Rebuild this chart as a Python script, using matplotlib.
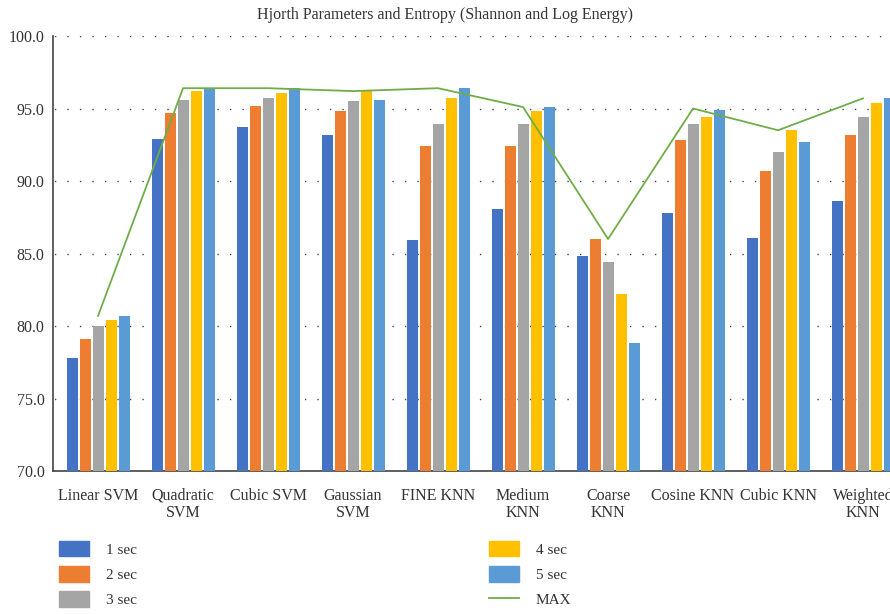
import numpy as np
import matplotlib.pyplot as plt
from matplotlib.patches import Patch
from matplotlib.lines import Line2D

plt.rcParams['font.family'] = ['Liberation Serif', 'DejaVu Serif']

# clasificadores
categorias = ['Linear SVM', 'Quadratic\nSVM', 'Cubic SVM', 'Gaussian\nSVM', 'FINE KNN',
              'Medium\nKNN', 'Coarse\nKNN', 'Cosine KNN', 'Cubic KNN', 'Weighted\nKNN']

# exactitud por longitud de ventana
sec1 = [77.8, 92.9, 93.7, 93.2, 85.9, 88.1, 84.8, 87.8, 86.1, 88.6]
sec2 = [79.1, 94.7, 95.2, 94.8, 92.4, 92.4, 86.0, 92.8, 90.7, 93.2]
sec3 = [80.0, 95.6, 95.7, 95.5, 93.9, 93.9, 84.4, 93.9, 92.0, 94.4]
sec4 = [80.4, 96.2, 96.1, 96.2, 95.7, 94.8, 82.2, 94.4, 93.5, 95.4]
sec5 = [80.7, 96.4, 96.4, 95.6, 96.4, 95.1, 78.8, 94.9, 92.7, 95.7]
maximo = [80.7, 96.4, 96.4, 96.2, 96.4, 95.1, 86.0, 95.0, 93.5, 95.7]

series = [sec1, sec2, sec3, sec4, sec5]
etiquetas = ['1 sec', '2 sec', '3 sec', '4 sec', '5 sec']
colores = ['#4472C4', '#ED7D31', '#A5A5A5', '#FFC000', '#5B9BD5']
verde = '#70AD47'

fig = plt.figure(figsize=(8.9, 6.14), dpi=100)
# el eje se sale un poco por la derecha, como en la original
ax = fig.add_axes([53/890, 1 - 471/614, 850/890, 435/614])

x = np.arange(len(categorias))
paso = 0.153
ancho = 0.13
for i, (s, c) in enumerate(zip(series, colores)):
    ax.bar(x + (i - 2)*paso, s, width=ancho, color=c, zorder=3)

ax.plot(x, maximo, color=verde, linewidth=1.3, zorder=4)

ax.set_ylim(70, 100)
ax.set_xlim(-0.53, 9.47)
ax.set_yticks(np.arange(70, 100.1, 5))
ax.set_yticklabels(['%.1f' % v for v in np.arange(70, 100.1, 5)], fontsize=11.5, color='#333333')
ax.set_xticks(x)
ax.set_xticklabels(categorias, fontsize=11.5, color='#333333', linespacing=1.1)
ax.tick_params(axis='both', length=0, pad=6)
ax.tick_params(axis='x', pad=12)
ax.yaxis.grid(True, linestyle=(8, (1, 8)), color='#444444', linewidth=1.0, zorder=0)
ax.spines['top'].set_visible(False)
ax.spines['right'].set_visible(False)
ax.spines['left'].set_color('#444444')
ax.spines['bottom'].set_color('#444444')
ax.spines['left'].set_linewidth(1.2)
ax.spines['bottom'].set_linewidth(1.2)

fig.text(0.5, 1 - 15/614, 'Hjorth Parameters and Entropy (Shannon and Log Energy)',
         ha='center', va='center', fontsize=11.5, color='#333333')

handles = [Patch(color=c) for c in colores] + [Line2D([0], [0], color=verde, linewidth=1.3)]
labels = etiquetas + ['MAX']
fig.legend(handles, labels, ncol=2, loc='upper left', bbox_to_anchor=(45/890, 1 - 527/614),
           frameon=False, fontsize=11, handlelength=2.0, handleheight=1.2,
           labelspacing=0.6, columnspacing=23, handletextpad=1.1, labelcolor='#333333')

plt.savefig('out.png', dpi=100)
